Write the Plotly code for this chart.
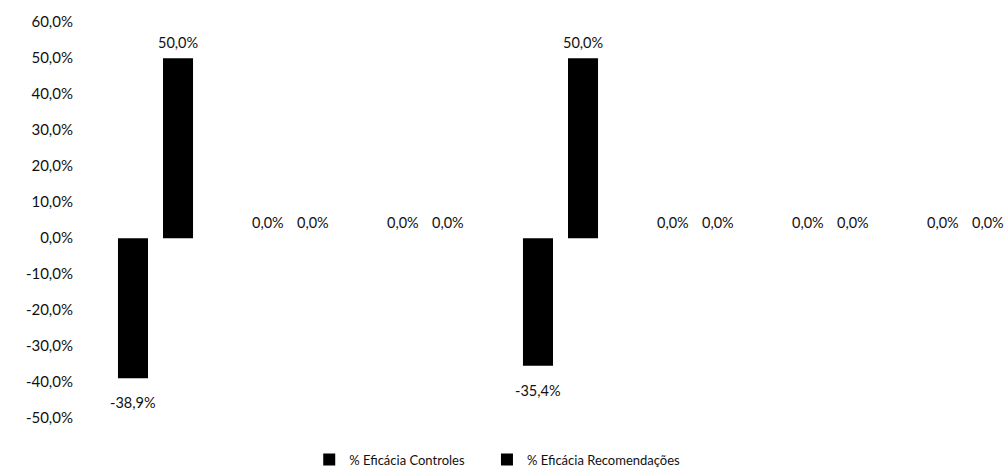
import plotly.graph_objects as go

# Grouped bars: efficacy of controls vs. recommendations per group
categories = ["G1", "G2", "G3", "G4", "G5", "G6", "G7"]
controles = [-38.9, 0.0, 0.0, -35.4, 0.0, 0.0, 0.0]
recomendacoes = [50.0, 0.0, 0.0, 50.0, 0.0, 0.0, 0.0]
y_ticks = [60, 50, 40, 30, 20, 10, 0, -10, -20, -30, -40, -50]
series_names = ["% Eficácia Controles", "% Eficácia Recomendações"]


def pct(v):
    return f"{v:.1f}%".replace(".", ",")


FONT = "Lato"
INK = "#111111"
BAR_SHIFT = 22.5      # offset of each bar centre from the slot centre (px)
legend_ids = ["legend", "legend2"]

fig = go.Figure()
for k, (name, vals) in enumerate(zip(series_names, [controles, recomendacoes])):
    fig.add_trace(go.Bar(
        x=categories, y=vals, name=name, legend=legend_ids[k],
        showlegend=True,
        marker=dict(color="#000000", line=dict(width=0)),
    ))
    # value labels, Excel-style spacing from the bar ends
    shift = -BAR_SHIFT if k == 0 else BAR_SHIFT
    for i, v in enumerate(vals):
        fig.add_annotation(
            x=i, y=v, xref="x", yref="y", text=pct(v), showarrow=False,
            xshift=shift, yanchor="bottom" if v >= 0 else "top",
            yshift=5 if v >= 0 else -14,
            font=dict(family=FONT, size=14.5, color=INK),
        )

legend_style = dict(orientation="h", xanchor="left", y=-0.074,
                    yanchor="middle", itemwidth=30, visible=True,
                    font=dict(family=FONT, size=13, color=INK))

fig.update_layout(
    width=1006, height=475,
    margin=dict(l=88, r=0, t=15, b=40),
    paper_bgcolor="white", plot_bgcolor="white",
    showlegend=True,
    barmode="group", bargap=0.333, bargroupgap=0.333,
    font=dict(family=FONT, color=INK),
    xaxis=dict(type="category", range=[-0.5, 6.3], showticklabels=False,
               showgrid=False, zeroline=False, showline=False),
    yaxis=dict(range=[-53, 62], tickvals=y_ticks,
               ticktext=[pct(v) for v in y_ticks],
               showgrid=False, zeroline=False,
               showline=False, ticklabelstandoff=14,
               tickfont=dict(family=FONT, size=15, color=INK)),
    legend=dict(x=0.241, **legend_style),
    legend2=dict(x=0.4346, **legend_style),
)

fig.write_html("out.html")
